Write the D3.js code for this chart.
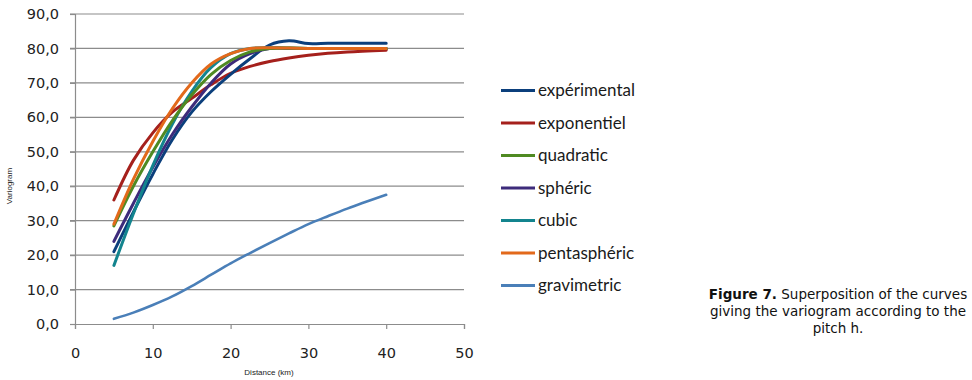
<!DOCTYPE html>
<html>
<head>
<meta charset="utf-8">
<script src="https://cdn.jsdelivr.net/npm/d3@7"></script>
<style>
  body { margin: 0; background: #fff; }
  svg { display: block; }
</style>
</head>
<body>
<svg id="chart"></svg>
<script>
const xTicks = [0, 10, 20, 30, 40, 50];
const yTicks = [0, 10, 20, 30, 40, 50, 60, 70, 80, 90];

const distance = [5, 7.5, 10, 12.5, 15, 17.5, 20, 22.5, 25, 27.5, 30, 32.5, 35, 40];

const experimental = [21, 32.5, 43.5, 53.5, 61.5, 67.5, 72.5, 77, 81, 82.2, 81.4, 81.5, 81.5, 81.5];
const exponentiel = [36, 47.5, 55.5, 61.5, 65.5, 69.5, 72.8, 74.8, 76.2, 77.2, 78, 78.6, 79, 79.5];
const quadratic = [28.5, 40, 50, 59, 66.5, 72.5, 76.5, 79, 80, 80.1, 80, 80, 80, 80];
const spheric = [24, 35, 45.5, 55, 63, 70, 75.5, 78.5, 80, 80, 80, 80, 80, 80];
const cubic = [17, 32, 46, 58, 67.5, 74.5, 78.5, 80, 80.2, 80.1, 80, 80, 80, 80];
const pentaspheric = [29, 42, 53, 62.5, 70, 75.5, 78.5, 80, 80.2, 80.1, 80, 80, 80, 80];
const gravimetric = [1.5, 3.3, 5.5, 8, 11, 14.3, 17.6, 20.6, 23.5, 26.3, 29, 31.3, 33.5, 37.5];

const seriesNames = ["expérimental", "exponentiel", "quadratic", "sphéric", "cubic", "pentasphéric", "gravimetric"];
const seriesValues = [experimental, exponentiel, quadratic, spheric, cubic, pentaspheric, gravimetric];
const seriesColors = ["#0b3f7c", "#a5201c", "#4f8a22", "#3d2b7b", "#13848e", "#e2691b", "#4a7fb8"];
// draw order: gravimetric first, orange on top like the original
const drawOrder = [6, 1, 0, 3, 4, 2, 5];

const svg = d3.select("#chart").attr("width", 972).attr("height", 380);

const x = d3.scaleLinear().domain([0, 50]).range([75, 464]);
const y = d3.scaleLinear().domain([0, 90]).range([324, 14]);

// horizontal gridlines
svg.append("g")
  .selectAll("line")
  .data(yTicks.slice(1))
  .join("line")
  .attr("x1", 70)
  .attr("x2", 464)
  .attr("y1", d => y(d))
  .attr("y2", d => y(d))
  .attr("stroke", "#8c8c8c")
  .attr("stroke-width", 1.2);

// y axis
const yAxis = svg.append("g")
  .attr("transform", `translate(${x(0)},0)`)
  .call(d3.axisLeft(y).tickValues(yTicks).tickSize(5).tickPadding(11)
    .tickFormat(d => d3.format(".1f")(d).replace(".", ",")));
yAxis.select(".domain").attr("stroke", "#8c8c8c").attr("stroke-width", 1.2);
yAxis.selectAll(".tick line").attr("stroke", "#8c8c8c").attr("stroke-width", 1.2);
yAxis.selectAll("text")
  .attr("fill", "#222")
  .style("font-family", "DejaVu Sans, Verdana, sans-serif")
  .style("font-size", "14.5px");

// x axis
const xAxis = svg.append("g")
  .attr("transform", `translate(0,${y(0)})`)
  .call(d3.axisBottom(x).tickValues(xTicks).tickSize(5).tickPadding(19));
xAxis.select(".domain").attr("stroke", "#8c8c8c").attr("stroke-width", 1.2);
xAxis.selectAll(".tick line").attr("stroke", "#8c8c8c").attr("stroke-width", 1.2);
xAxis.selectAll("text")
  .attr("fill", "#222")
  .style("font-family", "DejaVu Sans, Verdana, sans-serif")
  .style("font-size", "14.5px");

// axis titles
svg.append("text")
  .attr("transform", "translate(12,186) rotate(-90)")
  .attr("text-anchor", "middle")
  .style("font-family", "Liberation Sans, Arial, sans-serif")
  .style("font-size", "8px")
  .attr("fill", "#222")
  .text("Variogram");

svg.append("text")
  .attr("x", 269)
  .attr("y", 375)
  .attr("text-anchor", "middle")
  .style("font-family", "Liberation Sans, Arial, sans-serif")
  .style("font-size", "8px")
  .attr("fill", "#222")
  .text("Distance (km)");

// curves
const line = d3.line()
  .x((d, i) => x(distance[i]))
  .y(d => y(d))
  .curve(d3.curveCatmullRom.alpha(0.5));

svg.append("g")
  .selectAll("path")
  .data(drawOrder)
  .join("path")
  .attr("d", i => line(seriesValues[i]))
  .attr("fill", "none")
  .attr("stroke", i => seriesColors[i])
  .attr("stroke-width", i => (i === 6 ? 2.6 : 3))
  .attr("stroke-linecap", "round");

// legend
const legend = svg.append("g")
  .selectAll("g")
  .data(seriesNames)
  .join("g")
  .attr("transform", (d, i) => `translate(501,${90.5 + i * 32.5})`);

legend.append("line")
  .attr("x1", 0)
  .attr("x2", 34)
  .attr("stroke", (d, i) => seriesColors[i])
  .attr("stroke-width", 3);

legend.append("text")
  .attr("x", 37)
  .attr("y", 5.5)
  .style("font-family", "Lato, Open Sans, sans-serif")
  .style("font-size", "17px")
  .attr("fill", "#1a1a1a")
  .text(d => d);

// caption
const caption = svg.append("text")
  .attr("text-anchor", "middle")
  .style("font-family", "DejaVu Sans, Verdana, sans-serif")
  .style("font-size", "13.5px")
  .attr("fill", "#111");

const l1 = caption.append("tspan").attr("x", 838).attr("y", 299);
l1.append("tspan").attr("font-weight", "bold").text("Figure 7.");
l1.append("tspan").text(" Superposition of the curves");
caption.append("tspan").attr("x", 838).attr("y", 316).text("giving the variogram according to the");
caption.append("tspan").attr("x", 838).attr("y", 333).text("pitch h.");
</script>
</body>
</html>
